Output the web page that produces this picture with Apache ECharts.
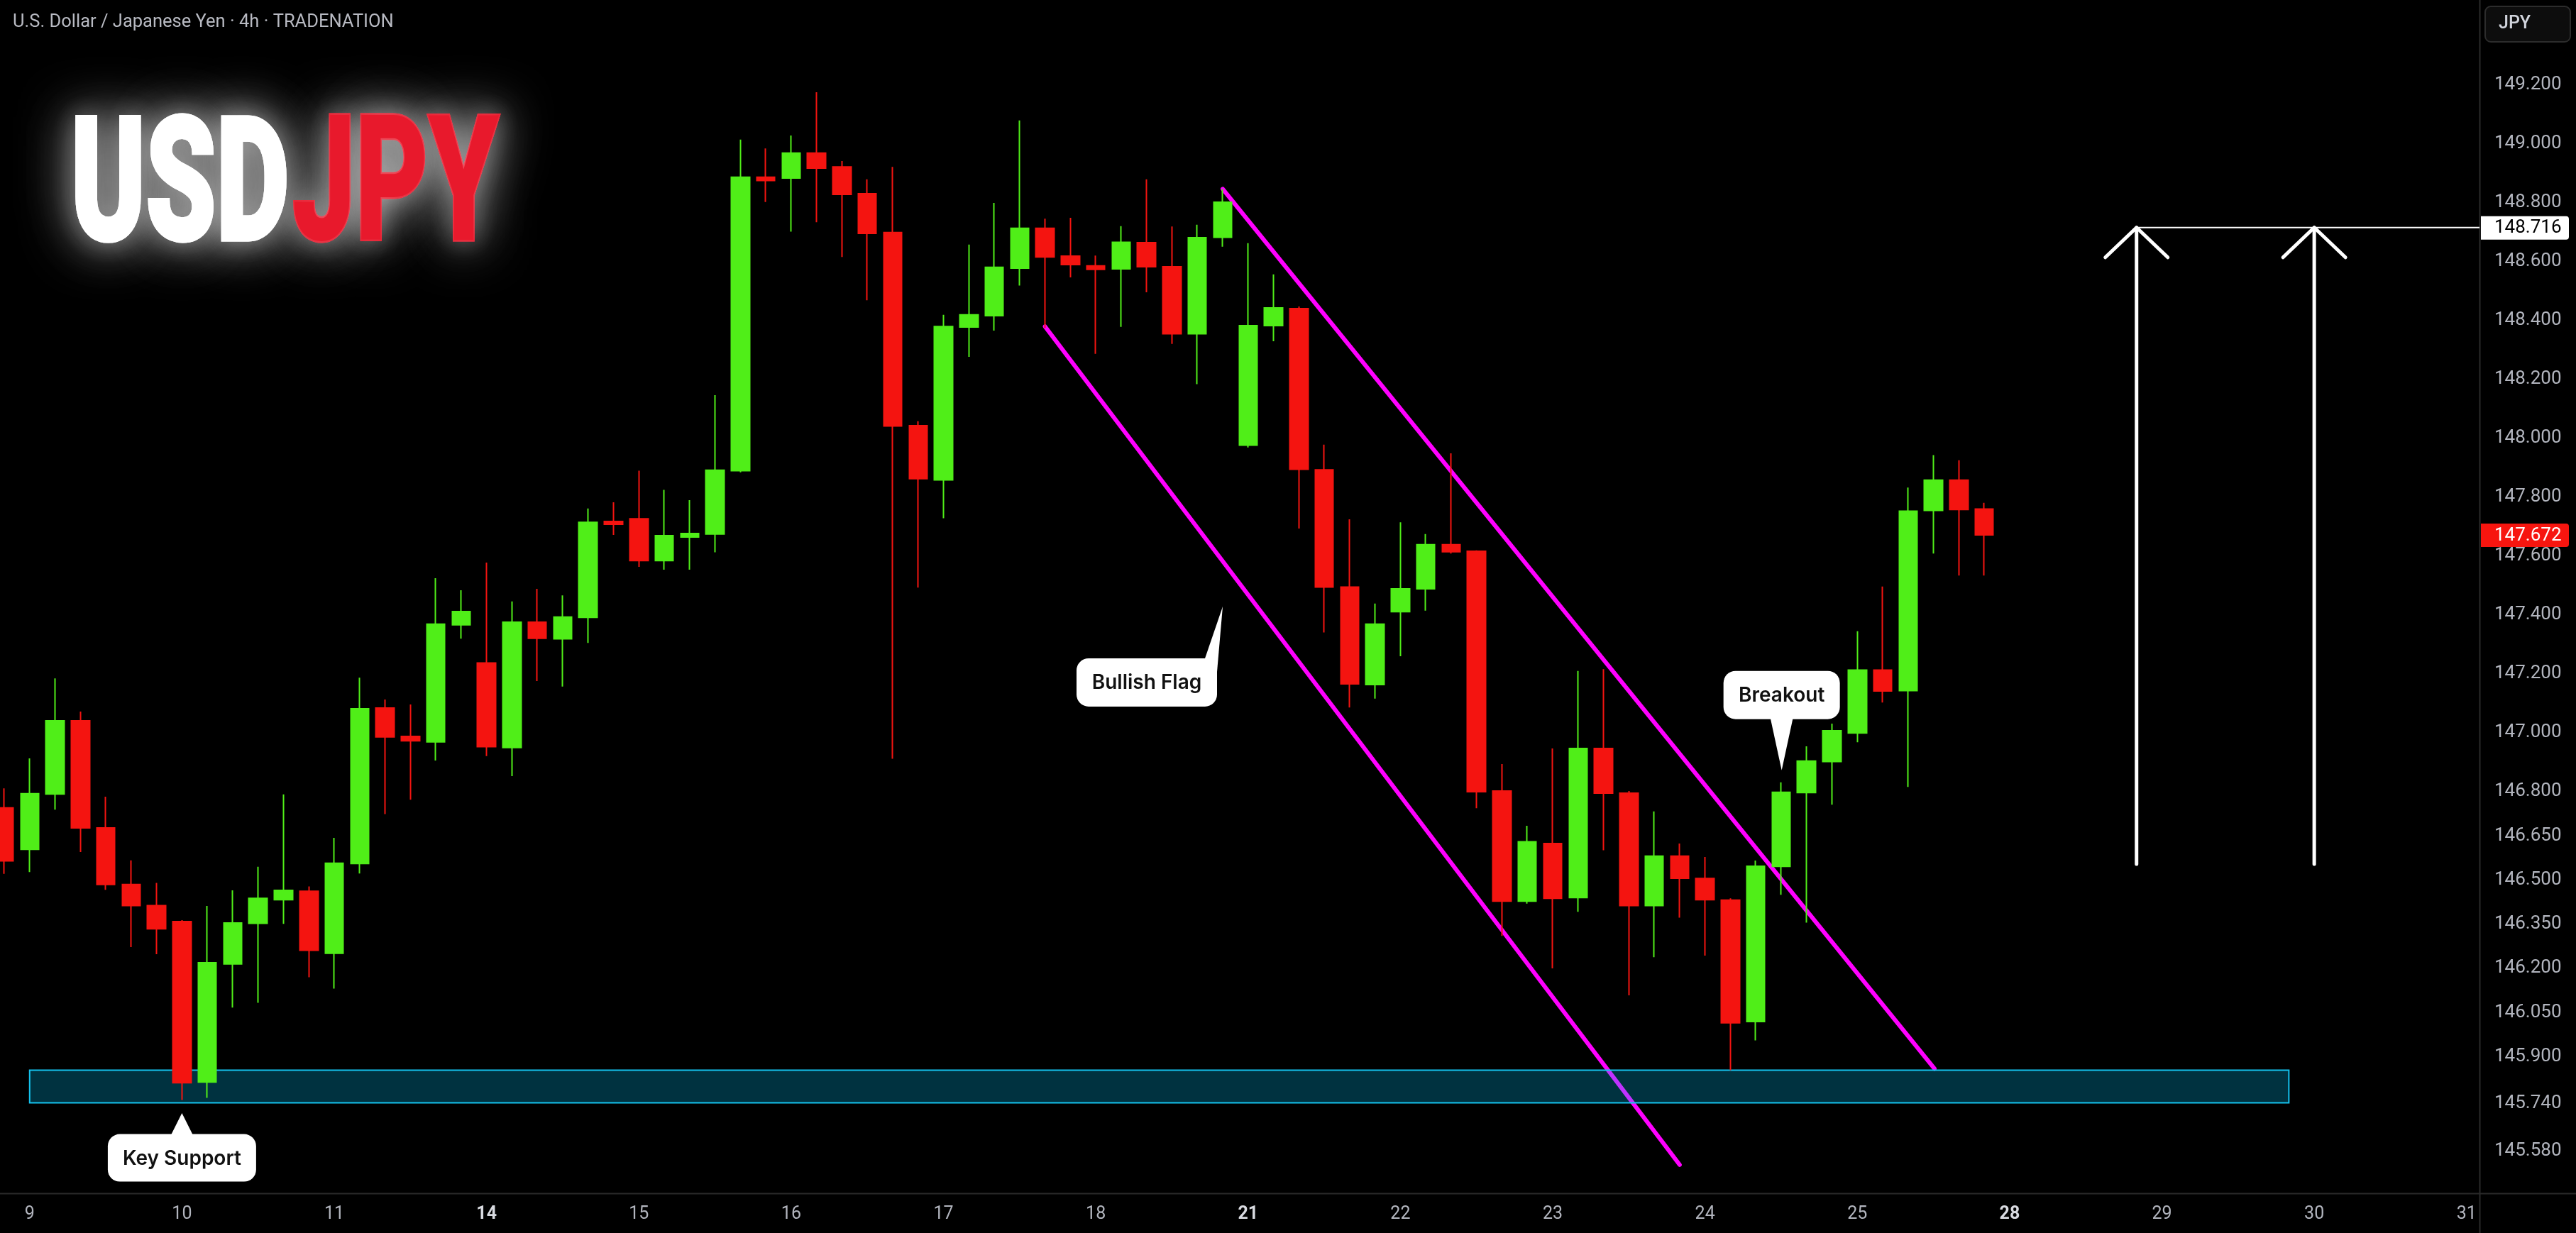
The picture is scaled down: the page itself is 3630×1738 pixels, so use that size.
<!DOCTYPE html>
<html>
<head>
<meta charset="utf-8">
<script src="https://cdn.jsdelivr.net/npm/echarts@6/dist/echarts.min.js"></script>
<style>
html,body{margin:0;padding:0;background:#000;}
#c{width:3630px;height:1738px;}
</style>
</head>
<body>
<div id="c"></div>
<script>
// ---------------- DATA ----------------
const dayLabels = ['9','10','11','14','15','16','17','18','21','22','23','24','25','28','29','30','31'];
const dayTickIndex = [1,7,13,19,25,31,37,43,49,55,61,67,73,79,85,91,97];
const weekStartDays = ['14','21','28'];

const opens = [146.745,146.604,146.792,147.041,146.677,146.485,146.413,146.359,145.814,146.215,
146.353,146.433,146.462,146.251,146.556,147.084,146.988,146.969,147.367,147.237,
146.950,147.376,147.319,147.392,147.718,147.727,147.585,147.665,147.675,147.890,
148.887,148.884,148.969,148.922,148.831,148.699,148.043,147.859,148.378,148.417,
148.578,148.714,148.619,148.586,148.576,148.665,148.583,148.355,148.683,147.977,
148.383,148.441,147.893,147.495,147.164,147.411,147.489,147.639,147.617,146.802,
146.428,146.624,146.440,146.947,146.795,146.413,146.581,146.505,146.432,146.019,
146.546,146.797,146.902,146.999,147.213,147.143,147.755,147.858,147.760];
const closes = [146.565,146.793,147.041,146.677,146.485,146.413,146.334,145.811,146.219,146.354,
146.438,146.465,146.261,146.557,147.082,146.986,146.973,147.369,147.412,146.953,
147.376,147.321,147.393,147.715,147.708,147.585,147.670,147.677,147.892,148.887,
148.876,148.969,148.918,148.829,148.696,148.042,147.863,148.380,148.420,148.581,
148.714,148.616,148.590,148.574,148.666,148.583,148.355,148.682,148.802,148.383,
148.443,147.895,147.495,147.166,147.369,147.489,147.639,147.615,146.800,146.428,
146.630,146.438,146.947,146.795,146.413,146.581,146.506,146.433,146.015,146.547,
146.798,146.904,147.007,147.213,147.142,147.753,147.858,147.758,147.672];
const lows = [146.521,146.527,146.739,146.595,146.467,146.272,146.248,145.753,145.760,146.067,
146.083,146.351,146.170,146.131,146.522,146.724,146.773,146.906,147.320,146.921,
146.853,147.176,147.157,147.305,147.672,147.564,147.554,147.554,147.613,147.885,
148.803,148.702,148.734,148.616,148.469,146.912,147.493,147.729,148.277,148.366,
148.519,148.375,148.547,148.287,148.379,148.496,148.321,148.184,148.651,147.969,
148.330,147.694,147.341,147.086,147.116,147.260,147.415,147.609,146.744,146.310,
146.420,146.200,146.392,146.601,146.108,146.238,146.372,146.243,145.854,145.955,
146.450,146.355,146.756,146.968,147.103,146.816,147.609,147.534,147.534];
const highs = [146.811,146.913,147.185,147.072,146.783,146.567,146.490,146.364,146.412,146.465,
146.545,146.791,146.478,146.643,147.187,147.113,147.096,147.525,147.484,147.578,
147.446,147.489,147.467,147.762,147.783,147.890,147.825,147.790,148.147,149.015,
148.985,149.029,149.176,148.942,148.880,148.922,148.058,148.420,148.658,148.800,
149.080,148.746,148.749,148.621,148.721,148.880,148.720,148.726,148.847,148.663,
148.557,148.448,147.979,147.725,147.439,147.715,147.675,147.949,147.620,146.894,
146.684,146.947,147.210,147.216,146.802,146.733,146.624,146.578,146.438,146.566,
146.832,146.954,147.031,147.345,147.497,147.833,147.943,147.926,147.781];

const priceTicks = [149.2,149.0,148.8,148.6,148.4,148.2,148.0,147.8,147.6,147.4,147.2,147.0,
146.8,146.65,146.5,146.35,146.2,146.05,145.9,145.74,145.58];
const lastPrice = 147.672;
const targetPrice = 148.716;

// drawings in data units (bar index, price)
const supportZone = [1, 145.854, 90, 145.743];
const upperChannel = [[48, 148.847], [76.04, 145.859]];
const lowerChannel = [[41, 148.380], [66, 145.533]];
const targetArrows = [[84, 146.554, 148.716], [91, 146.554, 148.716]];
const calloutTexts = ['Key Support', 'Bullish Flag', 'Breakout'];
const calloutAnchors = [[7, 145.708], [48, 147.429], [70.02, 146.873]];

// ---------------- CHART ----------------
const X_MIN = -0.168, X_MAX = 97.51;
const Y_MIN = 145.436, Y_MAX = 149.489;
const UP = '#50ee18', DOWN = '#f41410';

const candleRows = opens.map((o, i) => [i, o, closes[i], lows[i], highs[i]]);

// callout pixel styling (relative to tip)
const calloutStyle = [
  {dx: 0, dy: 63, w: 209, h: 67, pointer: [[0,0],[-16,32],[16,32]]},
  {dx: -107, dy: 107, w: 198, h: 68, pointer: [[0,0],[-26,76],[-8,92]]},
  {dx: 0, dy: -106, w: 164, h: 68, pointer: [[0,0],[-16,-74],[16,-74]]}
];

function fitText(str, left, right, top, bottom, weight, family) {
  const ctx = document.createElement('canvas').getContext('2d');
  let fs = 200;
  ctx.textBaseline = 'middle';
  ctx.font = weight + ' ' + fs + 'px ' + family;
  let m = ctx.measureText(str);
  const h = m.actualBoundingBoxAscent + m.actualBoundingBoxDescent;
  fs = fs * (bottom - top) / h;
  ctx.font = weight + ' ' + fs + 'px ' + family;
  m = ctx.measureText(str);
  const w = m.actualBoundingBoxLeft + m.actualBoundingBoxRight;
  const s = (right - left) / w;
  return {fs: fs, s: s, x: left + m.actualBoundingBoxLeft * s, y: top + m.actualBoundingBoxAscent};
}
const BW = 5;
const TFAM = 'Roboto';
const usd = fitText('USD', 105 + BW/2, 405 - BW/2, 159 + BW/2, 343 - BW/2, '900', TFAM);
const jpy = fitText('JPY', 412 + BW/2, 706 - BW/2, 159 + BW/2, 343 - BW/2, '900', TFAM);

function logoText(t, m, color, blur, alpha) {
  const sc = 'rgba(255,255,255,' + alpha + ')';
  return {type: 'text', silent: true, x: m.x, y: m.y, scaleX: m.s, scaleY: 1, z: 10,
    style: {text: t, fill: color, font: '900 ' + m.fs + 'px ' + TFAM, align: 'left', verticalAlign: 'middle',
      stroke: color, lineWidth: BW,
      textShadowColor: sc, textShadowBlur: blur, textShadowOffsetX: 0, textShadowOffsetY: 0,
      shadowColor: sc, shadowBlur: blur}};
}

const chart = echarts.init(document.getElementById('c'), null, {renderer: 'canvas', width: 3630, height: 1738});

const option = {
  backgroundColor: '#000000',
  animation: false,
  grid: {left: 0, right: 136, top: 0, bottom: 56, containLabel: false, outerBoundsMode: 'none'},
  xAxis: {
    type: 'value', min: X_MIN, max: X_MAX,
    axisLine: {show: false}, axisTick: {show: false}, splitLine: {show: false},
    axisLabel: {
      customValues: dayTickIndex,
      margin: 17,
      formatter: function (v) {
        const k = dayTickIndex.indexOf(Math.round(v));
        const t = dayLabels[k];
        return weekStartDays.indexOf(t) >= 0 ? '{b|' + t + '}' : '{n|' + t + '}';
      },
      rich: {
        n: {color: '#b2b5be', fontSize: 25, fontFamily: 'Roboto'},
        b: {color: '#d8dae0', fontSize: 25, fontFamily: 'Roboto', fontWeight: 'bold'}
      }
    }
  },
  yAxis: {
    type: 'value', position: 'right', min: Y_MIN, max: Y_MAX,
    axisLine: {show: false}, axisTick: {show: false}, splitLine: {show: false},
    axisLabel: {
      customValues: priceTicks,
      formatter: function (v) { return v.toFixed(3); },
      color: '#b2b5be', fontSize: 26, fontFamily: 'Roboto', margin: 21
    }
  },
  graphic: [
    {type: 'line', silent: true, shape: {x1: 3494.5, y1: 0, x2: 3494.5, y2: 1738}, style: {stroke: '#2a2a2a', lineWidth: 2}},
    {type: 'line', silent: true, shape: {x1: 0, y1: 1682.5, x2: 3630, y2: 1682.5}, style: {stroke: '#2a2a2a', lineWidth: 2}},
    {type: 'rect', silent: true, shape: {x: 3502, y: 9, width: 120, height: 50, r: 8}, style: {fill: '#0d0d0d', stroke: '#2c2c2c', lineWidth: 2}},
    {type: 'text', silent: true, x: 3521, y: 34, style: {text: 'JPY', fill: '#d1d4dc', font: '500 25px Roboto', verticalAlign: 'middle', align: 'left'}},
    {type: 'text', silent: true, x: 18, y: 32, style: {text: 'U.S. Dollar / Japanese Yen \u00b7 4h \u00b7 TRADENATION', fill: '#b8bac2', font: '25.5px Roboto', verticalAlign: 'middle', align: 'left'}},
    logoText('USD', usd, '#ffffff', 75, 0.75),
    logoText('JPY', jpy, '#e8192c', 75, 0.75),
    logoText('USD', usd, '#ffffff', 35, 0.3),
    logoText('JPY', jpy, '#e8192c', 35, 0.3)
  ],
  series: [
    {
      name: 'upperChannel', type: 'line', data: upperChannel, symbol: 'none', z: 1, silent: true,
      lineStyle: {color: '#ff00ff', width: 6, cap: 'round'}
    },
    {
      name: 'lowerChannel', type: 'line', data: lowerChannel, symbol: 'none', z: 1, silent: true,
      lineStyle: {color: '#ff00ff', width: 6, cap: 'round'}
    },
    {
      name: 'supportZone', type: 'custom', z: 2, silent: true, clip: true,
      data: [supportZone],
      renderItem: function (params, api) {
        const p1 = api.coord([api.value(0), api.value(1)]);
        const p2 = api.coord([api.value(2), api.value(3)]);
        return {type: 'rect', shape: {x: p1[0], y: p1[1], width: p2[0] - p1[0], height: p2[1] - p1[1]},
          style: {fill: 'rgba(0,200,255,0.25)', stroke: '#14c3ef', lineWidth: 2}};
      }
    },
    {
      name: 'USDJPY', type: 'candlestick', z: 3,
      data: candleRows,
      encode: {x: 0, y: [1, 2, 3, 4]},
      barWidth: 26,
      itemStyle: {color: UP, color0: DOWN, borderColor: UP, borderColor0: DOWN, borderWidth: 2}
    },
    {
      name: 'target', type: 'line', z: 4, silent: true, symbol: 'none',
      data: [[targetArrows[0][0], targetPrice], [X_MAX, targetPrice]],
      lineStyle: {color: '#ffffff', width: 2}
    },
    {
      name: 'arrows', type: 'custom', z: 5, silent: true,
      data: targetArrows,
      renderItem: function (params, api) {
        const b = api.coord([api.value(0), api.value(1)]);
        const t = api.coord([api.value(0), api.value(2)]);
        return {type: 'group', children: [
          {type: 'line', shape: {x1: b[0], y1: b[1], x2: t[0], y2: t[1]}, style: {stroke: '#ffffff', lineWidth: 5, lineCap: 'round'}},
          {type: 'polyline', shape: {points: [[t[0] - 44, t[1] + 42], [t[0], t[1]], [t[0] + 44, t[1] + 42]]},
            style: {stroke: '#ffffff', lineWidth: 5, lineCap: 'round', lineJoin: 'round', fill: null}}
        ]};
      }
    },
    {
      name: 'callouts', type: 'custom', z: 6, silent: true, clip: false,
      data: calloutAnchors,
      renderItem: function (params, api) {
        const i = params.dataIndex;
        const st = calloutStyle[i];
        const p = api.coord([api.value(0), api.value(1)]);
        const cx = p[0] + st.dx, cy = p[1] + st.dy;
        return {type: 'group', children: [
          {type: 'polygon', shape: {points: st.pointer.map(q => [p[0] + q[0], p[1] + q[1]])}, style: {fill: '#ffffff'}},
          {type: 'rect', shape: {x: cx - st.w / 2, y: cy - st.h / 2, width: st.w, height: st.h, r: 17}, style: {fill: '#ffffff'}},
          {type: 'text', style: {text: calloutTexts[i], x: cx, y: cy + 1, align: 'center', verticalAlign: 'middle',
            fill: '#111111', font: '600 28px Inter'}}
        ]};
      }
    },
    {
      name: 'priceTags', type: 'custom', z: 7, silent: true, clip: false,
      data: [[X_MAX, targetPrice, 0], [X_MAX, lastPrice, 1]],
      renderItem: function (params, api) {
        const p = api.coord([api.value(0), api.value(1)]);
        const red = api.value(2) === 1;
        return {type: 'group', children: [
          {type: 'rect', shape: {x: p[0] + 2, y: p[1] - 16, width: 124, height: 33, r: [0, 4, 4, 0]},
            style: {fill: red ? '#f7150f' : '#ffffff'}},
          {type: 'text', style: {text: api.value(1).toFixed(3), x: p[0] + 21, y: p[1] + 1, align: 'left', verticalAlign: 'middle',
            fill: red ? '#ffffff' : '#000000', font: '26px Roboto'}}
        ]};
      }
    }
  ]
};
chart.setOption(option);
</script>
</body>
</html>
